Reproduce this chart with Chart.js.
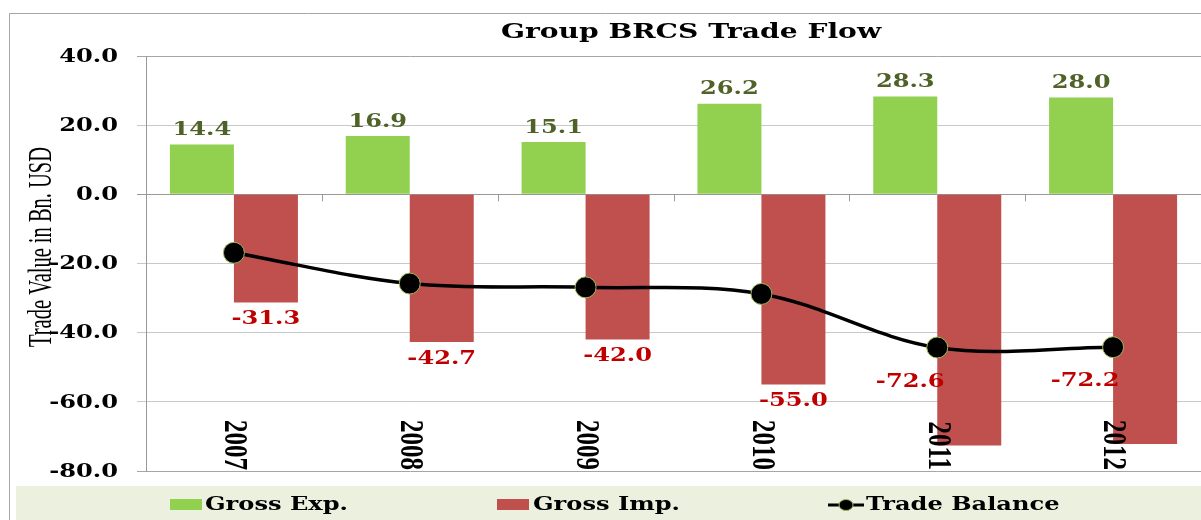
<!DOCTYPE html>
<html>
<head>
<meta charset="utf-8">
<script src="https://cdn.jsdelivr.net/npm/chart.js@4/dist/chart.umd.min.js"></script>
<style>
  html, body { margin: 0; padding: 0; background: #ffffff; }
  #wrap { width: 1201px; height: 520px; }
</style>
</head>
<body>
<div id="wrap"><canvas id="c" width="1201" height="520"></canvas></div>
<script>
// ---- data ----
const chartTitle = 'Group BRCS Trade Flow';
const yAxisTitle = 'Trade Value in Bn. USD';
const categories = ['2007', '2008', '2009', '2010', '2011', '2012'];
const seriesNames = ['Gross Exp.', 'Gross Imp.', 'Trade Balance'];
const grossExp = [14.4, 16.9, 15.1, 26.2, 28.3, 28.0];
const grossImp = [-31.3, -42.7, -42.0, -55.0, -72.6, -72.2];
const tradeBalance = [-16.9, -25.8, -26.9, -28.8, -44.3, -44.2];
const yTickValues = [40, 20, 0, -20, -40, -60, -80];

// ---- styles ----
const GREEN = '#92D050';
const RED = '#C0504D';
const SX = 1.34; // horizontal stretch of text seen in the reference
const LBL_FONT = 'bold 18px "DejaVu Serif"';
// manual label shifts (Excel labels moved by hand) for import labels
const impLabelShift = { 4: [-59, -80], 5: [-60, -80] };

function drawText(ctx, s, x, y, o) {
  ctx.save();
  ctx.translate(x, y);
  ctx.scale(o.sx || 1, 1);
  if (o.rot) ctx.rotate(o.rot);
  ctx.font = o.font;
  ctx.fillStyle = o.color || '#000';
  ctx.textAlign = o.align || 'center';
  ctx.textBaseline = o.baseline || 'middle';
  if (o.fit) {
    const w = ctx.measureText(s).width;
    ctx.scale(o.fit / w, 1);
  }
  ctx.fillText(s, 0, 0);
  ctx.restore();
}

const decor = {
  id: 'decor',
  beforeDraw(chart) {
    const ctx = chart.ctx;
    ctx.save();
    ctx.fillStyle = '#ffffff';
    ctx.fillRect(0, 0, chart.width, chart.height);
    ctx.strokeStyle = '#a6a6a6';
    ctx.lineWidth = 1;
    ctx.beginPath();
    ctx.moveTo(9.5, chart.height);
    ctx.lineTo(9.5, 13.5);
    ctx.lineTo(chart.width, 13.5);
    ctx.stroke();
    ctx.fillStyle = '#EBF1DE';
    ctx.fillRect(16, 486, chart.width - 16, chart.height - 486);
    ctx.restore();
  },
  beforeDatasetsDraw(chart) {
    const ctx = chart.ctx;
    const xs = chart.scales.x, ys = chart.scales.y;
    const y0 = ys.getPixelForValue(0);
    ctx.save();
    ctx.strokeStyle = '#999999';
    ctx.lineWidth = 1;
    for (let i = 0; i < categories.length - 1; i++) {
      const bx = Math.round((xs.getPixelForValue(i) + xs.getPixelForValue(i + 1)) / 2) + 0.5;
      ctx.beginPath();
      ctx.moveTo(bx, y0);
      ctx.lineTo(bx, y0 + 7);
      ctx.stroke();
    }
    ctx.restore();
  },
  afterDatasetsDraw(chart) {
    const ctx = chart.ctx;
    const xs = chart.scales.x;
    const m0 = chart.getDatasetMeta(0);
    m0.data.forEach((bar, i) => {
      drawText(ctx, grossExp[i].toFixed(1), bar.x, bar.y - 14,
        { font: LBL_FONT, color: '#4F6228', sx: SX });
    });
    const m1 = chart.getDatasetMeta(1);
    m1.data.forEach((bar, i) => {
      const sh = impLabelShift[i] || [0, 0];
      drawText(ctx, grossImp[i].toFixed(1), bar.x + sh[0], bar.y + 17 + sh[1],
        { font: LBL_FONT, color: '#C00000', sx: SX });
    });
    categories.forEach((c, i) => {
      drawText(ctx, c, xs.getPixelForValue(i), chart.chartArea.bottom - 1,
        { font: 'bold 25px "Liberation Serif"', sx: SX, rot: Math.PI / 2, align: 'right', baseline: 'middle' });
    });
  },
  afterDraw(chart) {
    const ctx = chart.ctx;
    const ys = chart.scales.y;
    drawText(ctx, chartTitle, 691, 33, { font: 'bold 21px "DejaVu Serif"', sx: SX });
    yTickValues.forEach(v => {
      drawText(ctx, v.toFixed(1), 118, ys.getPixelForValue(v) + 1,
        { font: LBL_FONT, sx: SX, align: 'right' });
    });
    drawText(ctx, yAxisTitle, 42, 247,
      { font: '25px "Liberation Serif"', sx: SX, rot: -Math.PI / 2, fit: 200 });
    const ly = 505;
    ctx.save();
    ctx.fillStyle = GREEN; ctx.fillRect(170, 499, 32, 11);
    ctx.fillStyle = RED; ctx.fillRect(497, 499, 32, 11);
    ctx.strokeStyle = '#000'; ctx.lineWidth = 3;
    ctx.beginPath(); ctx.moveTo(828, ly); ctx.lineTo(864, ly); ctx.stroke();
    ctx.fillStyle = '#000'; ctx.strokeStyle = '#9BBB59'; ctx.lineWidth = 1;
    ctx.beginPath(); ctx.ellipse(846, ly, 7, 5.5, 0, 0, Math.PI * 2); ctx.fill(); ctx.stroke();
    ctx.restore();
    drawText(ctx, seriesNames[0], 205, ly, { font: LBL_FONT, sx: SX, align: 'left' });
    drawText(ctx, seriesNames[1], 533, ly, { font: LBL_FONT, sx: SX, align: 'left' });
    drawText(ctx, seriesNames[2], 866, ly, { font: LBL_FONT, sx: SX, align: 'left' });
  }
};

new Chart(document.getElementById('c'), {
  type: 'bar',
  data: {
    labels: categories,
    datasets: [
      { type: 'bar', label: seriesNames[0], data: grossExp, backgroundColor: GREEN,
        categoryPercentage: 0.728, barPercentage: 1.0, order: 2 },
      { type: 'bar', label: seriesNames[1], data: grossImp, backgroundColor: RED,
        categoryPercentage: 0.728, barPercentage: 1.0, order: 2 },
      { type: 'line', label: seriesNames[2], data: tradeBalance, borderColor: '#000000',
        borderWidth: 3.5, tension: 0.35, pointRadius: 10.5, pointBackgroundColor: '#000000',
        pointBorderColor: '#9BBB59', pointBorderWidth: 1, fill: false, order: 0 }
    ]
  },
  options: {
    responsive: false,
    animation: false,
    devicePixelRatio: 1,
    layout: { autoPadding: false, padding: { left: 146, top: 56, right: -1, bottom: 49 } },
    plugins: { legend: { display: false }, tooltip: { enabled: false }, title: { display: false } },
    scales: {
      x: {
        ticks: { display: false },
        grid: { display: false },
        border: { display: false },
        afterFit(s) { s.height = 0; }
      },
      y: {
        min: -80, max: 40,
        ticks: { display: false, stepSize: 20 },
        grid: {
          color: (c) => c.tick && c.tick.value === 0 ? '#999999' :
                        (c.tick && (c.tick.value === -80 || c.tick.value === 40) ? '#a6a6a6' : '#c8c8c8'),
          tickLength: 9, drawTicks: true
        },
        border: { display: true, color: '#999999' },
        afterFit(s) { s.width = 0; }
      }
    }
  },
  plugins: [decor]
});
</script>
</body>
</html>
